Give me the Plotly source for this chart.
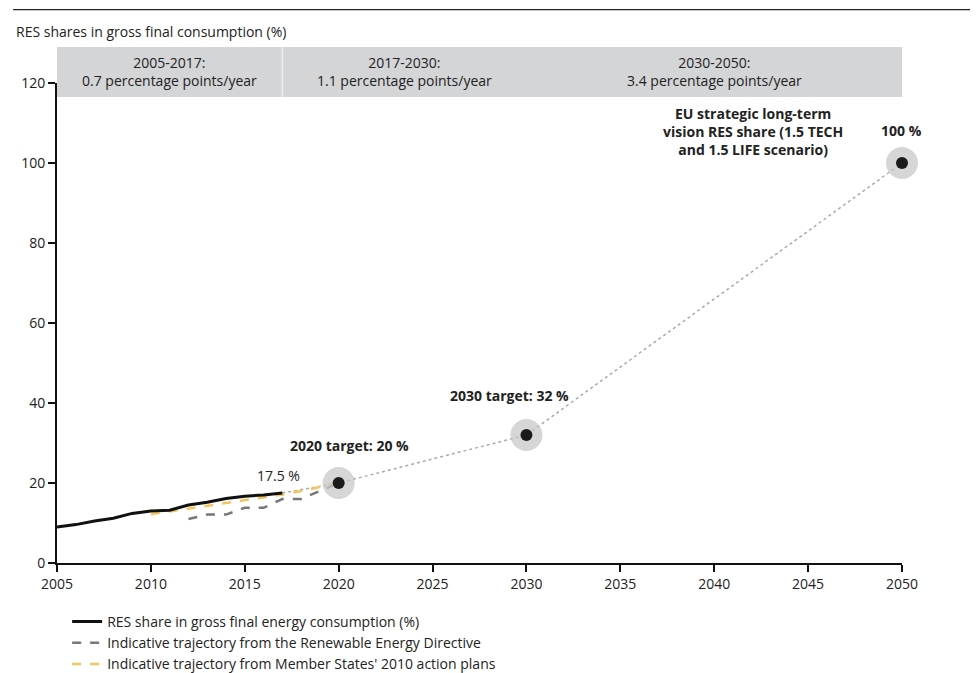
import plotly.graph_objects as go

# ---- data ----
res_years = [2005, 2006, 2007, 2008, 2009, 2010, 2011, 2012, 2013, 2014, 2015, 2016, 2017]
res_share = [9.0, 9.6, 10.5, 11.2, 12.4, 13.0, 13.2, 14.5, 15.2, 16.1, 16.7, 17.0, 17.5]

red_years = [2012, 2013, 2014, 2015, 2016, 2017, 2018, 2020]
red_traj = [11.0, 12.1, 12.1, 13.8, 13.8, 16.0, 16.0, 20.0]

nreap_years = [2010, 2011, 2012, 2013, 2014, 2015, 2016, 2017, 2018, 2019, 2020]
nreap_traj = [12.2, 12.9, 13.5, 14.2, 14.9, 15.6, 16.3, 17.1, 18.0, 19.0, 20.3]

proj_years = [2017, 2020, 2030, 2050]
proj_share = [17.5, 20, 32, 100]

target_years = [2020, 2030, 2050]
target_values = [20, 32, 100]

x_ticks = [2005, 2010, 2015, 2020, 2025, 2030, 2035, 2040, 2045, 2050]
y_ticks = [0, 20, 40, 60, 80, 100, 120]

period_bounds = [2005, 2017, 2030, 2050]
period_labels = ["2005-2017:<br>0.7 percentage points/year",
                 "2017-2030:<br>1.1 percentage points/year",
                 "2030-2050:<br>3.4 percentage points/year"]

FONT = "Open Sans"
TXT = "#222222"
FS = 14

fig = go.Figure()

fig.add_trace(go.Scatter(x=proj_years, y=proj_share, mode="lines",
                         line=dict(color="#aaaaaa", width=1.5, dash="dot"),
                         showlegend=False, hoverinfo="skip"))
fig.add_trace(go.Scatter(x=red_years, y=red_traj, mode="lines",
                         line=dict(color="#777777", width=2.5, dash="dash"),
                         legendrank=2,
                         name="Indicative trajectory from the Renewable Energy Directive"))
fig.add_trace(go.Scatter(x=nreap_years, y=nreap_traj, mode="lines",
                         line=dict(color="#F2C65A", width=2.5, dash="dash"),
                         legendrank=3,
                         name="Indicative trajectory from Member States' 2010 action plans"))
fig.add_trace(go.Scatter(x=res_years, y=res_share, mode="lines",
                         line=dict(color="#111111", width=3),
                         legendrank=1,
                         name="RES share in gross final energy consumption (%)"))
fig.add_trace(go.Scatter(x=target_years, y=target_values, mode="markers",
                         marker=dict(size=32, color="rgba(200,200,200,0.75)"),
                         showlegend=False, hoverinfo="skip", cliponaxis=False))
fig.add_trace(go.Scatter(x=target_years, y=target_values, mode="markers",
                         marker=dict(size=12, color="#1a1a1a"),
                         showlegend=False, hoverinfo="skip", cliponaxis=False))

x0, x1 = 2005, 2050
def px(year):
    return (year - x0) / (x1 - x0)

shapes = []
# period band
shapes.append(dict(type="rect", xref="paper", yref="paper", x0=0, x1=1,
                   y0=0.971, y1=1.075, fillcolor="#d4d5d7", line=dict(width=0),
                   layer="below"))
shapes.append(dict(type="line", xref="paper", yref="paper", x0=px(2017), x1=px(2017),
                   y0=0.971, y1=1.075, line=dict(color="#eeeeee", width=1.5)))
# top rule
shapes.append(dict(type="line", xref="paper", yref="paper", x0=-0.052, x1=1.1,
                   y0=1.153, y1=1.153, line=dict(color="#222222", width=1.2)))

annotations = []
for i, lab in enumerate(period_labels):
    annotations.append(dict(xref="paper", yref="paper",
                            x=(px(period_bounds[i]) + px(period_bounds[i + 1])) / 2,
                            y=1.023, text=lab, showarrow=False,
                            font=dict(family=FONT, size=FS, color=TXT),
                            xanchor="center", yanchor="middle"))
annotations.append(dict(xref="paper", yref="paper", x=-0.051, y=1.108,
                        text="RES shares in gross final consumption (%)", showarrow=False,
                        xanchor="left", yanchor="middle",
                        font=dict(family=FONT, size=FS, color=TXT)))
annotations.append(dict(x=2016.8, y=22, text="17.5 %", showarrow=False,
                        font=dict(family=FONT, size=FS, color=TXT)))
annotations.append(dict(x=2020.6, y=29.3, text="<b>2020 target: 20 %</b>", showarrow=False,
                        font=dict(family=FONT, size=FS, color=TXT)))
annotations.append(dict(x=2029.1, y=41.8, text="<b>2030 target: 32 %</b>", showarrow=False,
                        font=dict(family=FONT, size=FS, color=TXT)))
annotations.append(dict(x=2042.05, y=108,
                        text="<b>EU strategic long-term<br>vision RES share (1.5 TECH<br>and 1.5 LIFE scenario)</b>",
                        showarrow=False, align="center",
                        font=dict(family=FONT, size=FS, color=TXT)))
annotations.append(dict(x=2049.95, y=108.2, text="<b>100 %</b>", showarrow=False,
                        font=dict(family=FONT, size=FS, color=TXT)))

fig.update_layout(
    width=970, height=665,
    margin=dict(l=49, r=76, t=75, b=110, autoexpand=False),
    plot_bgcolor="white", paper_bgcolor="white",
    font=dict(family=FONT, size=FS, color=TXT),
    shapes=shapes, annotations=annotations,
    xaxis=dict(range=[x0, x1], tickvals=x_ticks, showgrid=False, zeroline=False,
               showline=True, linecolor="#111111", linewidth=2,
               ticks="outside", ticklen=7, tickwidth=1.5, tickcolor="#111111",
               tickfont=dict(family=FONT, size=FS, color=TXT)),
    yaxis=dict(range=[0, 120], tickvals=y_ticks, showgrid=False, zeroline=False,
               showline=True, linecolor="#111111", linewidth=2,
               ticks="outside", ticklen=7, tickwidth=1.5, tickcolor="#111111",
               tickfont=dict(family=FONT, size=FS, color=TXT)),
    legend=dict(x=0.012, y=0.1008, yref="container", xanchor="left", yanchor="top",
                traceorder="normal", tracegroupgap=0,
                font=dict(family=FONT, size=FS, color=TXT),
                itemwidth=30, bgcolor="rgba(0,0,0,0)"),
)

fig.write_html("out.html")
